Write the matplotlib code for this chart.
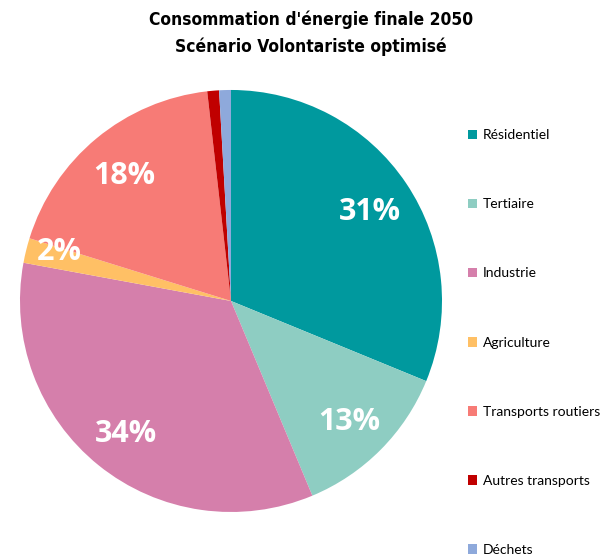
import numpy as np
import matplotlib.pyplot as plt
from matplotlib.patches import Patch

categories = ["Résidentiel", "Tertiaire", "Industrie", "Agriculture",
              "Transports routiers", "Autres transports", "Déchets"]
shares = [31.2, 12.5, 34.2, 1.9, 18.4, 0.9, 0.9]
labels_pct = ["31%", "13%", "34%", "2%", "18%", "", ""]
colors = ["#00999E", "#8ECDC2", "#D57FAB", "#FFC065", "#F77B76", "#C00000", "#8EA9DB"]
title_lines = ["Consommation d'énergie finale 2050", "Scénario Volontariste optimisé"]

fig = plt.figure(figsize=(6.04, 5.55), dpi=100)
ax = fig.add_axes([0.0331, 0.0775, 0.6987, 0.7604])

wedges, _ = ax.pie(shares, colors=colors, startangle=90, counterclock=False,
                   radius=1, wedgeprops=dict(linewidth=0))
ax.set_xlim(-1, 1)
ax.set_ylim(-1, 1)
ax.set_aspect('equal')
ax.axis('off')

# percentage labels, placed along each wedge's middle angle
for w, lab in zip(wedges, labels_pct):
    if not lab:
        continue
    mid = np.deg2rad((w.theta1 + w.theta2) / 2)
    if lab == "2%":
        mid -= np.deg2rad(3)   # small slice: label nudged up like the original
        r = 0.85
    else:
        r = 0.79
    ax.text(r * np.cos(mid), r * np.sin(mid), lab, ha='center', va='center_baseline',
            color='white', fontsize=22, fontweight='bold', family='Open Sans')

for y, line in zip([0.964, 0.915], title_lines):
    fig.text(0.515, y, line, ha='center', va='center', fontsize=12.5, fontweight='bold',
             family='DejaVu Sans', fontstretch='condensed')

handles = [Patch(facecolor=c, edgecolor='none') for c in colors]
fig.legend(handles, categories, loc='upper left', bbox_to_anchor=(0.765, 0.777),
           frameon=False, prop=dict(family='Lato', size=10),
           handlelength=0.7, handleheight=0.7, handletextpad=0.4,
           labelspacing=4.11, borderaxespad=0)

fig.savefig("out.png", dpi=100)
